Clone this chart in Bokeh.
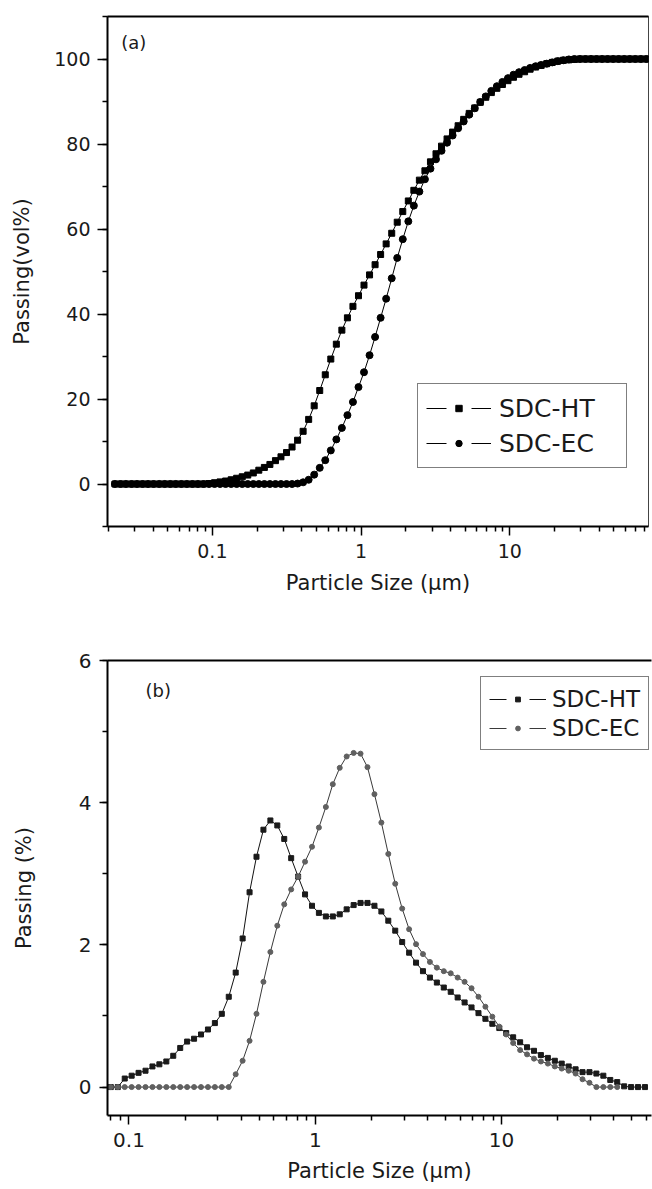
from bokeh.plotting import figure
from bokeh.layouts import column
from bokeh.models import (Range1d, FixedTicker, SingleIntervalTicker, LinearAxis,
                          Legend, LegendItem, Label, CustomJSTickFormatter)
from bokeh.embed import file_html
from bokeh.resources import INLINE

# ---------------- data ----------------
# particle-size channels (um), shared by both panels
sizes = [
    0.0221, 0.0241, 0.0262, 0.0286, 0.0311, 0.0339, 0.0369, 0.0402, 0.0439, 0.0478,
    0.0521, 0.0567, 0.0618, 0.0673, 0.0734,
    0.0799, 0.0871, 0.0949, 0.1034, 0.1126, 0.1227, 0.1337, 0.1456, 0.1587, 0.1729,
    0.1884, 0.2052, 0.2236, 0.2436, 0.2655, 0.2892, 0.3151, 0.3433, 0.3740, 0.4075,
    0.4440, 0.4837, 0.5270, 0.5742, 0.6256, 0.6816, 0.7426, 0.8091, 0.8815, 0.9605,
    1.046, 1.140, 1.242, 1.353, 1.474, 1.607, 1.750, 1.907, 2.078, 2.264,
    2.466, 2.687, 2.928, 3.190, 3.475, 3.786, 4.125, 4.494, 4.897, 5.335,
    5.812, 6.333, 6.900, 7.517, 8.190, 8.923, 9.723, 10.59, 11.54, 12.58,
    13.70, 14.93, 16.26, 17.72, 19.31, 21.03, 22.92, 24.97, 27.20, 29.64,
    32.29, 35.18, 38.33, 41.76, 45.50, 49.57, 54.01, 58.85, 64.12, 69.86,
    76.11, 82.92,
]

# (a) cumulative passing, vol%
cum_ht = [0] * 17 + [
    0.1, 0.3, 0.5, 0.7, 1.0, 1.35, 1.7, 2.1, 2.6, 3.25,
    3.9, 4.6, 5.5, 6.4, 7.4, 8.7, 10.3, 12.4, 15.2, 18.4,
    22.0, 25.7, 29.4, 32.9, 36.2, 39.1, 41.8, 44.3, 46.8, 49.2,
    51.6, 54.0, 56.5, 59.0, 61.6, 64.1, 66.6, 69.1, 71.5, 73.7,
    75.8, 77.7, 79.5, 81.2, 82.8, 84.3, 85.8, 87.2, 88.5, 89.8,
    91.0, 92.1, 93.1, 94.0, 94.9, 95.7, 96.4, 97.0, 97.6, 98.1,
    98.5, 98.9, 99.2, 99.5, 99.7, 99.8, 99.9, 100, 100, 100,
] + [100] * 10

cum_ec = [0] * 33 + [
    0.1, 0.4, 1.0, 2.2, 3.8, 5.6, 7.9, 10.5, 13.2, 16.2,
    19.3, 22.8, 26.3, 30.3, 34.6, 39.1, 43.6, 48.4, 53.2, 57.6,
    61.8, 65.5, 68.8, 71.7, 74.2, 76.4, 78.4, 80.3, 82.0, 83.7,
    85.3, 86.9, 88.4, 89.9, 91.2, 92.5, 93.6, 94.6, 95.5, 96.3,
    96.9, 97.4, 97.9, 98.3, 98.6, 98.9, 99.2, 99.5, 99.7, 99.9,
] + [100] * 14

# (b) frequency distribution, %
freq_ht = [
    0, 0, 0.12, 0.16, 0.20, 0.23, 0.29, 0.32, 0.36, 0.44,
    0.55, 0.64, 0.68, 0.74, 0.81, 0.90, 1.03, 1.27, 1.61, 2.09,
    2.74, 3.24, 3.62, 3.75, 3.68, 3.49, 3.22, 2.96, 2.71, 2.55,
    2.45, 2.40, 2.40, 2.43, 2.50, 2.56, 2.59, 2.59, 2.55, 2.47,
    2.34, 2.20, 2.04, 1.89, 1.75, 1.63, 1.54, 1.47, 1.40, 1.34,
    1.26, 1.19, 1.12, 1.04, 0.96, 0.89, 0.83, 0.76, 0.70, 0.63,
    0.56, 0.51, 0.45, 0.41, 0.37, 0.33, 0.29, 0.25, 0.21, 0.21,
    0.19, 0.16, 0.10, 0.07, 0.01, 0, 0, 0,
]
freq_ec = [0] * 18 + [
    0.18, 0.37,
    0.65, 1.03, 1.48, 1.90, 2.27, 2.57, 2.78, 2.96, 3.17, 3.38,
    3.65, 3.94, 4.26, 4.49, 4.65, 4.70, 4.69, 4.50, 4.12, 3.72,
    3.28, 2.86, 2.51, 2.22, 2.01, 1.87, 1.76, 1.68, 1.63, 1.60,
    1.54, 1.48, 1.39, 1.27, 1.13, 0.99, 0.85, 0.74, 0.62, 0.52,
    0.46, 0.40, 0.36, 0.33, 0.29, 0.26, 0.23, 0.19, 0.11, 0.06,
    0, 0, 0, 0,
]
sizes_b_ht = sizes[15:15 + len(freq_ht)]
sizes_b_ec = sizes[15:15 + len(freq_ec)]

labels = ["SDC-HT", "SDC-EC"]
x_title = "Particle Size (\u03bcm)"
x_major = [0.1, 1, 10]
x_minor = [m * 10.0 ** e for e in range(-2, 2) for m in range(2, 10)]

FONT = "DejaVu Sans"
TXT = "#1a1a1a"
NAN = float("nan")


def style(p, ytick_out, ylab_standoff, ytitle_standoff, ytick_size, xtick_size,
          xlab_standoff, xtitle_standoff):
    p.grid.visible = False
    p.background_fill_color = "white"
    p.border_fill_color = "white"
    xa = p.xaxis[0]
    ya = p.yaxis[0]
    xa.ticker = FixedTicker(ticks=x_major, minor_ticks=x_minor)
    xa.formatter = CustomJSTickFormatter(code="return tick.toString();")
    for ax in (xa, ya):
        ax.axis_line_width = 2
        ax.axis_line_color = "black"
        ax.major_tick_line_width = 1.5
        ax.minor_tick_line_width = 1.5
        ax.major_tick_line_color = "black"
        ax.minor_tick_line_color = "black"
        ax.major_tick_in = 0
        ax.minor_tick_in = 0
        ax.minor_tick_out = 5
        ax.major_label_text_font = FONT
        ax.major_label_text_color = TXT
        ax.axis_label_text_font = FONT
        ax.axis_label_text_font_size = "21px"
        ax.axis_label_text_font_style = "normal"
        ax.axis_label_text_color = TXT
    xa.major_label_text_font_size = xtick_size
    ya.major_label_text_font_size = ytick_size
    xa.major_tick_out = 9
    xa.major_label_standoff = xlab_standoff
    xa.axis_label_standoff = xtitle_standoff
    ya.major_tick_out = ytick_out
    ya.major_label_standoff = ylab_standoff
    ya.axis_label_standoff = ytitle_standoff
    top = LinearAxis(ticker=FixedTicker(ticks=[]), axis_line_width=2,
                     axis_line_color="black", major_tick_out=0, major_tick_in=0,
                     minor_tick_out=0, minor_tick_in=0,
                     major_label_text_font_size="0px")
    p.add_layout(top, "above")


# ---------------- panel (a) ----------------
p1 = figure(width=649, height=604, x_axis_type="log",
            x_range=Range1d(0.0197, 85.7), y_range=Range1d(-10, 110),
            output_backend="svg", toolbar_location=None,
            min_border_left=107, min_border_right=1,
            min_border_top=16, min_border_bottom=78)
p1.outline_line_color = "#444444"
p1.outline_line_width = 1
p1.xaxis.axis_label = x_title
p1.yaxis.axis_label = "Passing(vol%)"
p1.yaxis.ticker = SingleIntervalTicker(interval=20, num_minor_ticks=2)
style(p1, 10, 7, 17, "19px", "19px", 8, 10)

p1.line(sizes, cum_ht, line_color="black", line_width=1)
ht1 = p1.scatter(sizes, cum_ht, marker="square", size=6, color="black")
p1.line(sizes, cum_ec, line_color="black", line_width=1)
ec1 = p1.scatter(sizes, cum_ec, marker="circle", size=7, color="black")
lg_ht1 = p1.line([NAN], [NAN], line_color="black", line_width=1, line_dash="20 25")
lg_ec1 = p1.line([NAN], [NAN], line_color="black", line_width=1, line_dash="20 25")

leg1 = Legend(items=[LegendItem(label=labels[0], renderers=[lg_ht1, ht1]),
                     LegendItem(label=labels[1], renderers=[lg_ec1, ec1])],
              location=(310, 58), margin=0, padding=8, spacing=3,
              glyph_width=65, glyph_height=16, label_height=32,
              label_standoff=8, label_width=119,
              label_text_font=FONT, label_text_font_size="25px",
              label_text_color=TXT, border_line_color="black",
              border_line_width=1, background_fill_color="white",
              background_fill_alpha=1)
p1.add_layout(leg1)
p1.add_layout(Label(x=0.0244, y=104, text="(a)", text_font=FONT,
                    text_font_size="18px", text_baseline="middle",
                    text_color=TXT))

# ---------------- panel (b) ----------------
p2 = figure(width=652, height=585, x_axis_type="log",
            x_range=Range1d(0.0767, 63.8), y_range=Range1d(-0.4, 6),
            output_backend="svg", toolbar_location=None,
            min_border_left=103, min_border_right=0,
            min_border_top=56, min_border_bottom=74)
p2.outline_line_color = None
p2.xaxis.axis_label = x_title
p2.yaxis.axis_label = "Passing (%)"
p2.yaxis.ticker = SingleIntervalTicker(interval=2, num_minor_ticks=2)
style(p2, 8, 8, 40, "20px", "20px", 8, 9)

p2.line(sizes_b_ht, freq_ht, line_color="#111111", line_width=1)
ht2 = p2.scatter(sizes_b_ht, freq_ht, marker="square", size=5, color="#1a1a1a")
p2.line(sizes_b_ec, freq_ec, line_color="#3a3a3a", line_width=1)
ec2 = p2.scatter(sizes_b_ec, freq_ec, marker="circle", size=5, color="#606060")
lg_ht2 = p2.line([NAN], [NAN], line_color="#111111", line_width=1, line_dash="17 23")
lg_ec2 = p2.line([NAN], [NAN], line_color="#3a3a3a", line_width=1, line_dash="17 23")

leg2 = Legend(items=[LegendItem(label=labels[0], renderers=[lg_ht2, ht2]),
                     LegendItem(label=labels[1], renderers=[lg_ec2, ec2])],
              location=(373, 365), margin=0, padding=8, spacing=2,
              glyph_width=57, glyph_height=12, label_height=27,
              label_standoff=6,
              label_text_font=FONT, label_text_font_size="23px",
              label_text_color=TXT, border_line_color="black",
              border_line_width=1, background_fill_color="white",
              background_fill_alpha=1)
p2.add_layout(leg2)
p2.add_layout(Label(x=0.1227, y=5.58, text="(b)", text_font=FONT,
                    text_font_size="18px", text_baseline="middle",
                    text_color=TXT))

layout = column(p1, p2, spacing=0)
open("out.html", "w").write(file_html(layout, INLINE, title="Particle size"))
